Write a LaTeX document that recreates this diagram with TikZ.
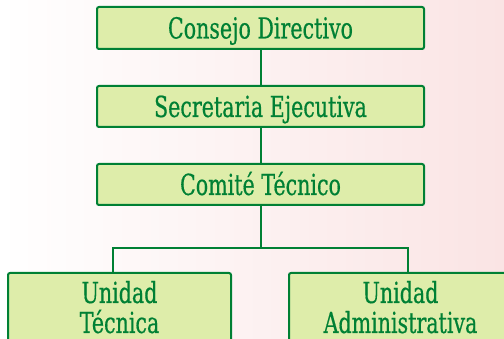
\documentclass[tikz,border=0pt]{standalone}
\usepackage{fontspec}
\setmainfont{DejaVu Serif}[FakeStretch=0.71, FakeBold=0.5]
\usepackage{tikz}
\definecolor{boxgreen}{RGB}{0,128,52}
\definecolor{boxfill}{RGB}{222,237,170}
\definecolor{bgpink}{RGB}{250,228,228}
\tikzstyle{unit}=[draw=boxgreen, line width=2pt, fill=boxfill, rounded corners=2pt, text=boxgreen, font=\fontsize{29}{30}\selectfont, inner sep=0pt]
\tikzstyle{head}=[unit, minimum width=327pt, minimum height=41pt, text height=21pt, text depth=0pt]
\tikzstyle{branch}=[unit, anchor=north, minimum width=223pt, text height=60pt, text depth=20pt, align=center]
\tikzstyle{link}=[draw=boxgreen, line width=2pt]

\begin{document}
\begin{tikzpicture}[x=1pt, y=-1pt]
\useasboundingbox (0,0) rectangle (504,339);
\clip (0,0) rectangle (504,339);
\shade[left color=white, right color=bgpink] (0,0) rectangle (504,339);

\node[head, minimum height=42pt] (cd) at (260.5,28) {Consejo Directivo};
\node[head] (se) at (260.5,106.5) {Secretaria Ejecutiva};
\node[head] (ct) at (260.5,184.5) {Comité Técnico};
\node[branch] (ut) at (119.5,272) {Unidad\\Técnica};
\node[branch] (ua) at (400.5,272) {Unidad\\Administrativa};

\coordinate (bl) at (113,248);
\coordinate (br) at (408,248);
\draw[link] (cd)--(se);
\draw[link] (se)--(ct);
\draw[link] (ct.south)--(ct.south |- bl);
\draw[link] (ut.north -| bl)--(bl)--(br)--(ua.north -| br);
\end{tikzpicture}
\end{document}
